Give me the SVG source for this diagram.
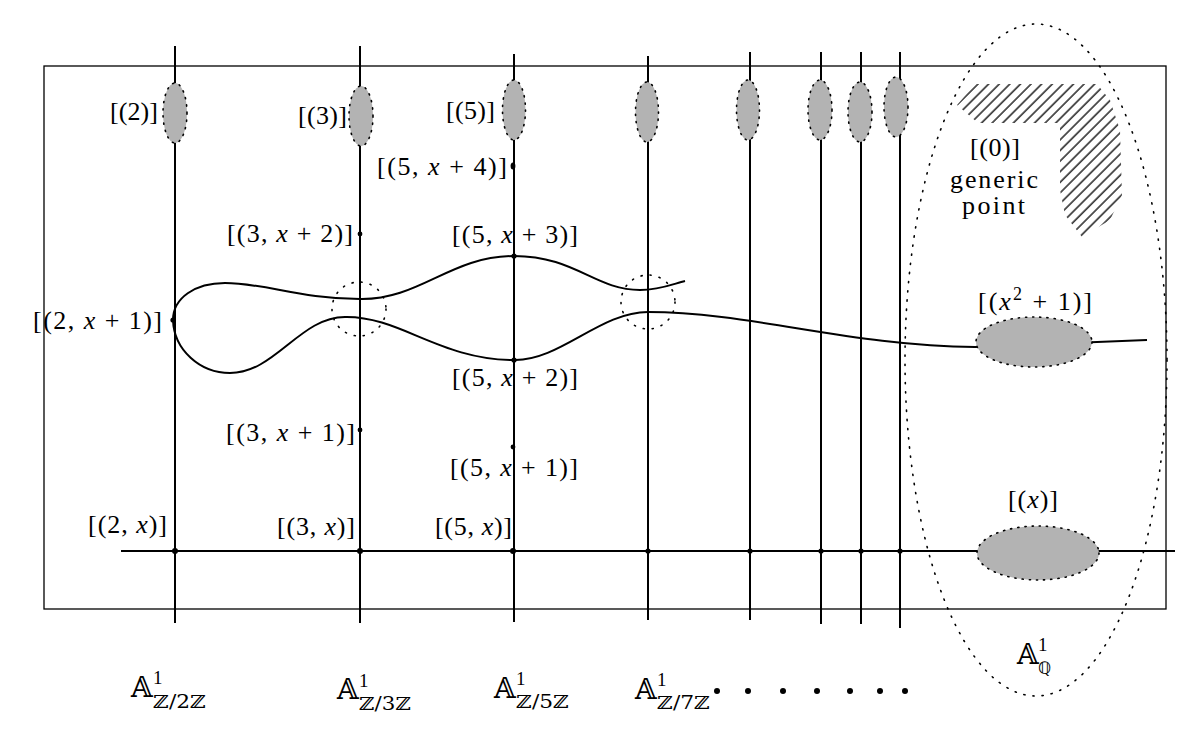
<svg xmlns="http://www.w3.org/2000/svg" width="1200" height="734" viewBox="0 0 1200 734">
<style>
.lbl{font-family:"Liberation Serif","DejaVu Serif",serif;font-size:26px;fill:#000}
.it{font-style:italic}
.bb{font-family:"DejaVu Serif","DejaVu Sans",serif;fill:#000;font-size:28px}
.sup{font-family:"Liberation Serif","DejaVu Serif",serif;font-size:19px}
.sub{font-family:"DejaVu Serif","DejaVu Sans",serif;font-size:18px}
.subq{font-family:"DejaVu Sans","DejaVu Serif",sans-serif;font-size:17px}
.fiber{stroke:#000;stroke-width:2;fill:none}
.blob{fill:#b3b3b3;stroke:#000;stroke-width:1.6;stroke-dasharray:1.2 6;stroke-linecap:round}
.dotc{fill:none;stroke:#000;stroke-width:1.6;stroke-dasharray:1.2 8;stroke-linecap:round}
.pt{fill:#000}
</style>
<defs>
<pattern id="hatch" width="7.5" height="7.5" patternUnits="userSpaceOnUse" patternTransform="rotate(45)">
<line x1="1" y1="0" x2="1" y2="7.5" stroke="#000" stroke-width="1.3"/>
</pattern>
</defs>
<rect width="1200" height="734" fill="#fff"/>
<g id="frame">
<rect x="44" y="66" width="1122" height="543" fill="none" stroke="#000" stroke-width="1.3"/>
</g>
<g id="generic-ellipse">
<ellipse cx="1036" cy="360" rx="131" ry="336" class="dotc"/>
<polygon points="957,105 975,84 1097,84 1110,100 1120,130 1122,195 1110,220 1082,237 1065,215 1060,190 1060,123 978,123" fill="url(#hatch)"/>
</g>
<g id="fibers">
<line x1="175" y1="46" x2="175" y2="623" class="fiber"/>
<line x1="360" y1="46" x2="360" y2="623" class="fiber"/>
<line x1="514" y1="54" x2="514" y2="622" class="fiber"/>
<line x1="648" y1="56" x2="648" y2="620" class="fiber"/>
<line x1="750" y1="52" x2="750" y2="620" class="fiber"/>
<line x1="821" y1="52" x2="821" y2="624" class="fiber"/>
<line x1="861" y1="52" x2="861" y2="624" class="fiber"/>
<line x1="900" y1="52" x2="900" y2="628" class="fiber"/>
<line x1="121" y1="551" x2="1175" y2="551" class="fiber"/>
</g>
<g id="connectors">
<path class="fiber" d="M173,320 C173,298 195,283 225,283 C265,283 300,299 360,299 C420,300 450,256 514,256 C575,256 595,290 640,290 C660,290 673,284 685,281"/>
<path class="fiber" d="M173,320 C174,350 200,373 230,373 C275,373 300,317 345,317 C400,316 440,360 514,360 C560,361 600,312 648,312 C750,312 850,346 975,347 L1147,340"/>
</g>
<g id="crossings">
<circle cx="359" cy="309" r="27" class="dotc"/>
<circle cx="648" cy="302" r="27" class="dotc"/>
</g>
<g id="closed-points">
<ellipse cx="175" cy="113" rx="12" ry="30" class="blob"/>
<ellipse cx="361" cy="116" rx="12" ry="30" class="blob"/>
<ellipse cx="514" cy="110" rx="11.5" ry="30" class="blob"/>
<ellipse cx="647" cy="112" rx="11.5" ry="30" class="blob"/>
<ellipse cx="748" cy="110" rx="11.5" ry="30" class="blob"/>
<ellipse cx="820" cy="110" rx="12" ry="30" class="blob"/>
<ellipse cx="860" cy="112" rx="12" ry="30" class="blob"/>
<ellipse cx="896" cy="107" rx="12" ry="30" class="blob"/>
<ellipse cx="1034" cy="342" rx="58" ry="25" class="blob"/>
<ellipse cx="1038" cy="553" rx="61" ry="27" class="blob"/>
</g>
<g id="points">
<circle cx="173" cy="320" r="2.6" class="pt"/>
<circle cx="360" cy="234" r="2.4" class="pt"/>
<circle cx="514" cy="256" r="2.6" class="pt"/>
<circle cx="514" cy="360" r="2.6" class="pt"/>
<circle cx="360" cy="430" r="2.4" class="pt"/>
<circle cx="513" cy="447" r="2.4" class="pt"/>
<ellipse cx="513" cy="166" rx="2.4" ry="3.5" class="pt"/>
<circle cx="175" cy="551" r="3" class="pt"/>
<circle cx="360" cy="551" r="3" class="pt"/>
<circle cx="513" cy="551" r="3" class="pt"/>
<circle cx="648" cy="551" r="2.6" class="pt"/>
<circle cx="750" cy="551" r="2.6" class="pt"/>
<circle cx="821" cy="551" r="2.6" class="pt"/>
<circle cx="861" cy="551" r="2.6" class="pt"/>
<circle cx="900" cy="551" r="2.6" class="pt"/>
</g>
<g id="labels">
<text class="lbl" x="110" y="120" textLength="48" lengthAdjust="spacing">[(2)]</text>
<text class="lbl" x="298" y="124" textLength="49" lengthAdjust="spacing">[(3)]</text>
<text class="lbl" x="446" y="119" textLength="49" lengthAdjust="spacing">[(5)]</text>
<text class="lbl" x="377" y="175" textLength="130" lengthAdjust="spacing">[(5, <tspan class="it">x</tspan> + 4)]</text>
<text class="lbl" x="227" y="242" textLength="126" lengthAdjust="spacing">[(3, <tspan class="it">x</tspan> + 2)]</text>
<text class="lbl" x="452" y="243" textLength="126" lengthAdjust="spacing">[(5, <tspan class="it">x</tspan> + 3)]</text>
<text class="lbl" x="33" y="329" textLength="129" lengthAdjust="spacing">[(2, <tspan class="it">x</tspan> + 1)]</text>
<text class="lbl" x="452" y="386" textLength="126" lengthAdjust="spacing">[(5, <tspan class="it">x</tspan> + 2)]</text>
<text class="lbl" x="226" y="441" textLength="129" lengthAdjust="spacing">[(3, <tspan class="it">x</tspan> + 1)]</text>
<text class="lbl" x="450" y="476" textLength="128" lengthAdjust="spacing">[(5, <tspan class="it">x</tspan> + 1)]</text>
<text class="lbl" x="88" y="533" textLength="79" lengthAdjust="spacing">[(2, <tspan class="it">x</tspan>)]</text>
<text class="lbl" x="277" y="535" textLength="78" lengthAdjust="spacing">[(3, <tspan class="it">x</tspan>)]</text>
<text class="lbl" x="435" y="535" textLength="77" lengthAdjust="spacing">[(5, <tspan class="it">x</tspan>)]</text>
<text class="lbl" x="978" y="310" textLength="114" lengthAdjust="spacing">[(<tspan class="it">x</tspan><tspan font-size="18" dy="-10">2</tspan><tspan dy="10"> + 1)]</tspan></text>
<text class="lbl" x="1008" y="508" textLength="50" lengthAdjust="spacing">[(<tspan class="it">x</tspan>)]</text>
<text class="lbl" x="970" y="156" textLength="50" lengthAdjust="spacing">[(0)]</text>
<text class="lbl" font-size="24"><tspan x="950" y="188" textLength="88" lengthAdjust="spacing">generic</tspan><tspan x="962" y="214" textLength="63" lengthAdjust="spacing">point</tspan></text>
</g>
<g id="base-labels">
<text class="bb" x="131" y="697">𝔸<tspan class="sup" x="153" y="684">1</tspan><tspan class="sub" x="153" y="708" textLength="53" lengthAdjust="spacingAndGlyphs">ℤ/2ℤ</tspan></text>
<text class="bb" x="337" y="699">𝔸<tspan class="sup" x="359" y="687">1</tspan><tspan class="sub" x="359" y="710" textLength="52" lengthAdjust="spacingAndGlyphs">ℤ/3ℤ</tspan></text>
<text class="bb" x="494" y="698">𝔸<tspan class="sup" x="516" y="685">1</tspan><tspan class="sub" x="516" y="708" textLength="53" lengthAdjust="spacingAndGlyphs">ℤ/5ℤ</tspan></text>
<text class="bb" x="635" y="699">𝔸<tspan class="sup" x="657" y="686">1</tspan><tspan class="sub" x="657" y="709" textLength="53" lengthAdjust="spacingAndGlyphs">ℤ/7ℤ</tspan></text>
<text class="bb" x="1017" y="664" font-size="26">𝔸<tspan class="sup" x="1038" y="651" font-size="18">1</tspan><tspan class="subq" x="1038" y="674">ℚ</tspan></text>
</g>
<g id="ellipsis">
<circle cx="717" cy="691" r="3" class="pt"/>
<circle cx="748" cy="691" r="3" class="pt"/>
<circle cx="783" cy="691" r="3" class="pt"/>
<circle cx="817" cy="691" r="3" class="pt"/>
<circle cx="850" cy="691" r="3" class="pt"/>
<circle cx="880" cy="691" r="3" class="pt"/>
<circle cx="905" cy="691" r="3" class="pt"/>
</g>
</svg>
